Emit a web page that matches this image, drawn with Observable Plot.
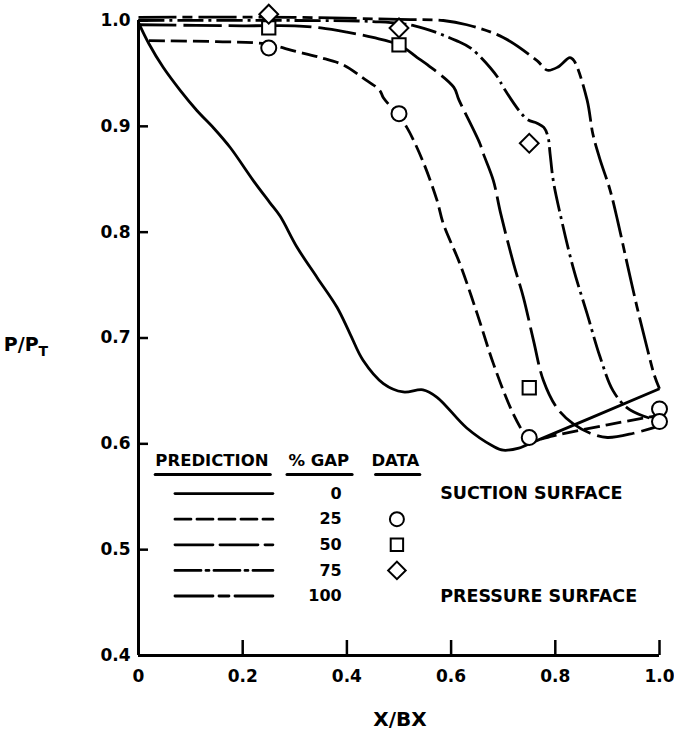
<!DOCTYPE html>
<html>
<head>
<meta charset="utf-8">
<script src="https://cdn.jsdelivr.net/npm/d3@7"></script>
<script src="https://cdn.jsdelivr.net/npm/@observablehq/plot@0.6"></script>
<style>
  html, body { margin: 0; padding: 0; background: #fff; }
  #chart { width: 674px; height: 738px; }
</style>
</head>
<body>
<div id="chart"></div>
<script>
// ---------- data ----------
const xTicks = [0, 0.2, 0.4, 0.6, 0.8, 1.0];
const yTicks = [0.4, 0.5, 0.6, 0.7, 0.8, 0.9, 1.0];
const gapLabels = ["0", "25", "50", "75", "100"];
const surfaceLabels = ["SUCTION SURFACE", "PRESSURE SURFACE"];
const headers = ["PREDICTION", "% GAP", "DATA"];

// prediction curves, [X/BX, P/PT]
const gap0 = [[0,0.998],[0.02,0.978],[0.047,0.956],[0.08,0.934],[0.112,0.915],[0.145,0.898],[0.176,0.880],[0.22,0.849],[0.252,0.828],[0.272,0.815],[0.304,0.786],[0.343,0.757],[0.381,0.729],[0.406,0.704],[0.431,0.679],[0.47,0.657],[0.508,0.649],[0.546,0.651],[0.573,0.644],[0.63,0.615],[0.68,0.598],[0.70,0.594],[0.73,0.596],[0.745,0.599],[1.0,0.652]];
const gap25 = [[0.02,0.981],[0.15,0.980],[0.243,0.978],[0.30,0.971],[0.349,0.965],[0.393,0.958],[0.43,0.946],[0.463,0.934],[0.47,0.927],[0.496,0.912],[0.515,0.899],[0.545,0.868],[0.573,0.83],[0.585,0.808],[0.617,0.770],[0.65,0.723],[0.681,0.676],[0.714,0.634],[0.739,0.610],[0.748,0.603],[0.80,0.608],[0.90,0.618],[1.0,0.627]];
const gap50 = [[0,0.996],[0.2,0.995],[0.3,0.995],[0.35,0.993],[0.4,0.989],[0.45,0.984],[0.5,0.977],[0.535,0.965],[0.555,0.958],[0.605,0.937],[0.615,0.925],[0.655,0.884],[0.662,0.874],[0.681,0.849],[0.695,0.818],[0.72,0.770],[0.739,0.738],[0.758,0.698],[0.777,0.660],[0.803,0.634],[0.834,0.619],[0.867,0.610],[0.90,0.606],[0.95,0.610],[1.0,0.617]];
const gap75 = [[0,1.0],[0.3,1.0],[0.45,0.999],[0.53,0.995],[0.61,0.981],[0.64,0.973],[0.69,0.946],[0.70,0.937],[0.745,0.907],[0.765,0.903],[0.778,0.899],[0.786,0.89],[0.79,0.874],[0.796,0.849],[0.809,0.818],[0.834,0.767],[0.861,0.723],[0.886,0.682],[0.911,0.650],[0.938,0.634],[0.97,0.626],[1.0,0.622]];
const gap100 = [[0,1.003],[0.3,1.003],[0.5,1.001],[0.585,1.0],[0.63,0.996],[0.70,0.984],[0.765,0.962],[0.785,0.953],[0.805,0.956],[0.828,0.965],[0.836,0.962],[0.861,0.925],[0.872,0.893],[0.885,0.87],[0.905,0.84],[0.92,0.81],[0.938,0.77],[0.957,0.729],[0.976,0.691],[0.99,0.665],[1.0,0.652]];

// measured data
const circleX = [0.25, 0.5, 0.75, 1.0, 1.0];
const circleY = [0.974, 0.912, 0.606, 0.633, 0.621];
const squareX = [0.25, 0.5, 0.75];
const squareY = [0.993, 0.977, 0.653];
const diamondX = [0.25, 0.5, 0.75];
const diamondY = [1.006, 0.993, 0.884];

// ---------- styles ----------
const FONT = "DejaVu Sans, Verdana, sans-serif";
const DASH = [null, "16,6", "38,7", "26,5,3,5", "38,6,10,6"];
const LW = 2.8;

// legend layout (data space of the frame)
const L = {
  lineX1: 0.070, lineX2: 0.258, numX: 0.39, markX: 0.496,
  headY: 0.584, ulY: 0.571, row0: 0.553, rowStep: 0.0242,
  surfX: 0.579
};

const pts = (xs, ys) => xs.map((x, i) => ({x, y: ys[i]}));
const series = [gap0, gap25, gap50, gap75, gap100];

const marks = [];
// prediction curves
series.forEach((s, i) => {
  marks.push(Plot.line(s, {x: d => d[0], y: d => d[1], stroke: "#000", strokeWidth: LW,
    strokeDasharray: DASH[i], curve: "catmull-rom", strokeLinecap: "butt"}));
});
// data symbols
const symStyle = {stroke: "#000", strokeWidth: 2, fill: "#fff"};
marks.push(Plot.dot(pts(circleX, circleY), {x: "x", y: "y", r: 7.5, symbol: "circle", ...symStyle}));
marks.push(Plot.dot(pts(squareX, squareY), {x: "x", y: "y", r: 7.5, symbol: "square", ...symStyle}));
marks.push(Plot.dot(pts(diamondX, diamondY), {x: "x", y: "y", r: 7.5, symbol: "square", rotate: 45, ...symStyle}));

// axes lines
marks.push(Plot.ruleX([0], {stroke: "#000", strokeWidth: 3}));
marks.push(Plot.ruleY([0.4], {stroke: "#000", strokeWidth: 3}));
marks.push(Plot.axisY({ticks: yTicks, tickSize: -10, tickPadding: 18, strokeWidth: 2.5,
  tickFormat: d => d.toFixed(1), fontSize: 17, fontWeight: "bold", label: null}));
marks.push(Plot.axisX({ticks: xTicks, tickSize: -15, tickPadding: 29, strokeWidth: 2.5,
  tickFormat: d => d === 0 ? "0" : d.toFixed(1), fontSize: 17, fontWeight: "bold", label: null}));

// legend
const legendRows = gapLabels.map((g, i) => ({g, i, y: L.row0 - i * L.rowStep}));
legendRows.forEach(r => {
  marks.push(Plot.line([[L.lineX1, r.y], [L.lineX2, r.y]], {x: d => d[0], y: d => d[1], stroke: "#000",
    strokeWidth: LW, strokeDasharray: DASH[r.i]}));
});
marks.push(Plot.text(legendRows, {x: () => L.numX, y: "y", text: "g", textAnchor: "end",
  fontSize: 16, fontWeight: "bold", fill: "#000"}));
const legendSyms = [
  {sym: "circle", rot: 0, y: legendRows[1].y},
  {sym: "square", rot: 0, y: legendRows[2].y},
  {sym: "square", rot: 45, y: legendRows[3].y}
];
legendSyms.forEach(s => {
  marks.push(Plot.dot([s], {x: () => L.markX, y: "y", r: 7, symbol: s.sym, rotate: s.rot, ...symStyle}));
});
const headerPos = [
  {t: headers[0], cx: 0.141, u1: 0.032, u2: 0.253},
  {t: headers[1], cx: 0.346, u1: 0.285, u2: 0.410},
  {t: headers[2], cx: 0.493, u1: 0.455, u2: 0.540}
];
marks.push(Plot.text(headerPos, {x: "cx", y: () => L.headY, text: "t", fontSize: 16.5, fontWeight: "bold", fill: "#000"}));
headerPos.forEach(h => {
  marks.push(Plot.line([[h.u1, L.ulY], [h.u2, L.ulY]], {x: d => d[0], y: d => d[1], stroke: "#000", strokeWidth: 3}));
});
marks.push(Plot.text([
  {t: surfaceLabels[0], y: legendRows[0].y},
  {t: surfaceLabels[1], y: legendRows[4].y}
], {x: () => L.surfX, y: "y", text: "t", textAnchor: "start", fontSize: 17.5, fontWeight: "bold", fill: "#000"}));

const plot = Plot.plot({
  width: 674,
  height: 738,
  marginLeft: 138,
  marginRight: 15,
  marginTop: 20,
  marginBottom: 83,
  x: {domain: [0, 1]},
  y: {domain: [0.4, 1.0]},
  style: {fontFamily: FONT, background: "#fff", color: "#000", overflow: "visible"},
  marks
});

// axis titles
const svg = d3.select(plot);
const yl = svg.append("text").attr("x", 26).attr("y", 351)
  .attr("font-family", FONT).attr("font-size", 19).attr("font-weight", "bold").attr("fill", "#000")
  .text("P/P");
yl.append("tspan").attr("dy", 5).attr("font-size", 14).text("T");
svg.append("text").attr("x", 400).attr("y", 726).attr("text-anchor", "middle")
  .attr("font-family", FONT).attr("font-size", 20).attr("font-weight", "bold").attr("fill", "#000")
  .text("X/BX");

document.getElementById("chart").appendChild(plot);
</script>
</body>
</html>
